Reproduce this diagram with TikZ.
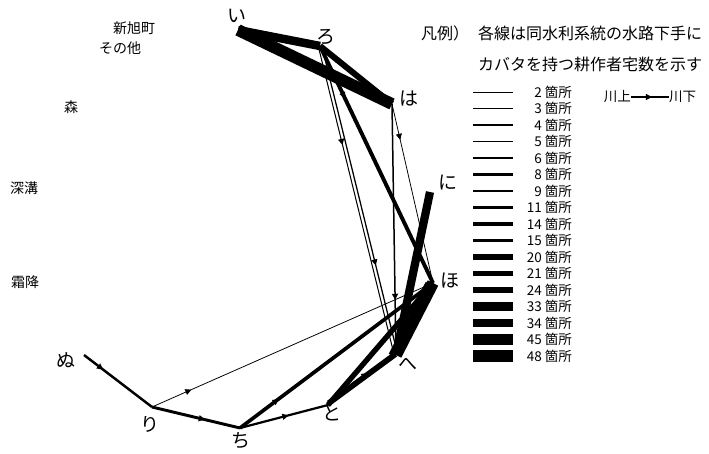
\documentclass[tikz,border=0pt]{standalone}
\usepackage{fontspec}
\setmainfont{Noto Sans CJK JP}
\usetikzlibrary{arrows.meta,positioning,decorations.markings}

\tikzset{
	waterway/.style={line width={0.3pt+0.24pt*#1}},
	flowmark/.style={postaction={decorate,decoration={markings,
		mark=at position #1 with {\arrow{Triangle[length=6pt,width=6pt]}}}}},
	vlabel/.style={font=\fontsize{19}{21}\selectfont,inner sep=1pt},
	place/.style={font=\fontsize{14}{16}\selectfont,inner sep=1pt},
	keytext/.style={font=\fontsize{13.5}{15}\selectfont,inner sep=0pt},
	headtext/.style={font=\fontsize{16}{18}\selectfont,inner sep=0pt}
}

\begin{document}
\begin{tikzpicture}[x=1pt,y=-1pt]
	\useasboundingbox (0,0) rectangle (709,454);

	% waterway points
	\coordinate (i) at (238,30);
	\coordinate (ro) at (320,46);
	\coordinate (ha) at (392,104);
	\coordinate (ni) at (430,192);
	\coordinate (ho) at (433,283);
	\coordinate (he) at (396,355);
	\coordinate (to) at (328,405);
	\coordinate (chi) at (240,428);
	\coordinate (ri) at (152,407);
	\coordinate (nu) at (84,355);

	\node[vlabel] (lab-i) at (237,16) {い};
	\node[vlabel] (lab-ro) at (326,37) {ろ};
	\node[vlabel] (lab-ha) at (409,99) {は};
	\node[vlabel] (lab-ni) at (448,183) {に};
	\node[vlabel] (lab-ho) at (450,281) {ほ};
	\node[vlabel] (lab-he) at (408,364) {へ};
	\node[vlabel] (lab-to) at (332,413) {と};
	\node[vlabel] (lab-chi) at (241,441) {ち};
	\node[vlabel] (lab-ri) at (150,424) {り};
	\node[vlabel] (lab-nu) at (66,360) {ぬ};

	\node[place] (shin) at (134,28) {新旭町};
	\node[place] (other) at (120,48) {その他};
	\node[place] (mori) at (71,107) {森};
	\node[place] (fuka) at (24,188) {深溝};
	\node[place] (shimo) at (25,282) {霜降};

	% waterways
	\begin{scope}
		\draw[waterway=2,flowmark=0.14] (ri) -- (ho);
		\draw[waterway=2,flowmark=0.2] (ha) -- (ho);
		\draw[waterway=3,flowmark=0.32] ([xshift=-1.8pt]ro) -- ([xshift=-1.8pt]he);
		\draw[waterway=4,flowmark=0.71] ([xshift=1.8pt]ro) -- ([xshift=1.8pt]he);
		\draw[waterway=5,flowmark=0.78] (ha) -- (he);
		\draw[waterway=15,flowmark=0.22] (ro) -- (ho);
		\draw[waterway=14,flowmark=0.2] (chi) -- (ho);
		\draw[waterway=9,flowmark=0.28] (nu) -- (ri);
		\draw[waterway=11,flowmark=0.6] (ri) -- (chi);
		\draw[waterway=8,flowmark=0.55] (chi) -- (to);
		\draw[waterway=11,flowmark=0.58] ([yshift=3pt]to) -- ([yshift=3pt]he);
		\draw[waterway=14] (to) -- (he);
		\draw[waterway=21,flowmark=0.7] (to) -- (ho);
		\draw[waterway=33,flowmark=0.63] (ni) -- (he);
		\draw[waterway=48,flowmark=0.4] (ho) -- (he);
		\draw[waterway=20] ([xshift=-5pt]ho) -- ([xshift=-5pt]he);
		\draw[waterway=24,flowmark=0.3] (ro) -- (ha);
		\draw[waterway=34] (i) -- (ro);
		\draw[waterway=48,flowmark=0.38] (i) -- (ha);
	\end{scope}

	% legend
	\node[headtext] (hanrei) at (445,33) {凡例）};
	\node[headtext,anchor=west] (head1) at (478,33) {各線は同水利系統の水路下手に};
	\node[headtext,anchor=west] (head2) at (478,64) {カバタを持つ耕作者宅数を示す};

	\foreach \n [count=\k from 0] in {2,3,4,5,6,8,9,11,14,15,20,21,24,33,34,45,48} {
		\coordinate (key-a\k) at (473,{92+16.5*\k});
		\coordinate (key-b\k) at (513,{92+16.5*\k});
		\draw[waterway=\n] (key-a\k) -- (key-b\k);
		\node[keytext,anchor=east] (key-\k) at (572,{92+16.5*\k}) {\n\ 箇所};
	}

	\node[keytext,anchor=east] (up) at (631,97) {川上};
	\node[keytext,anchor=west] (down) at (669,97) {川下};
	\draw[waterway=9,flowmark=0.55] (up) -- (down);
\end{tikzpicture}
\end{document}
